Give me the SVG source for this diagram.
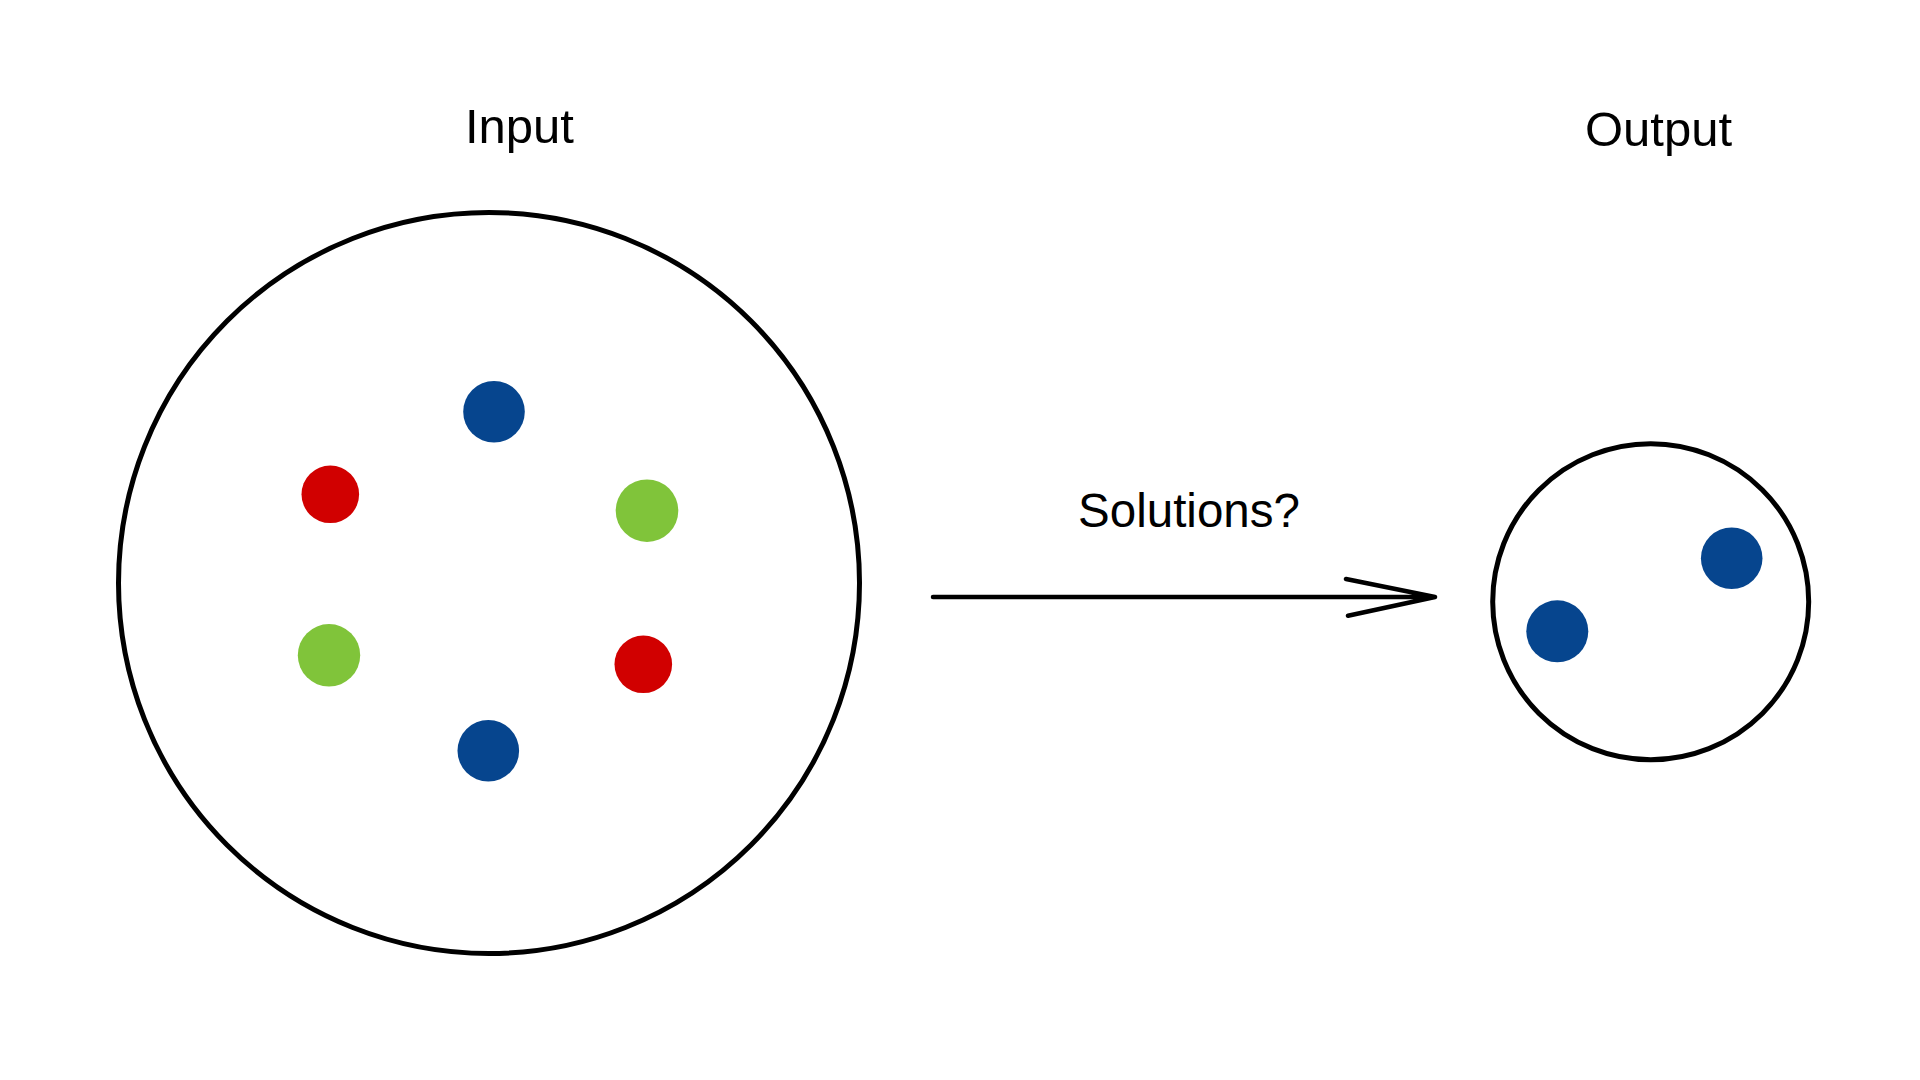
<svg xmlns="http://www.w3.org/2000/svg" width="1920" height="1080" viewBox="0 0 1920 1080">
<style>
.set{fill:none;stroke:#000;stroke-width:5}
.lbl{font-family:"Liberation Sans",Arial,sans-serif;fill:#000;text-anchor:middle}
.blue{fill:#06458e}
.red{fill:#d10000}
.green{fill:#80c43a}
.conn{fill:none;stroke:#000;stroke-width:4.5;stroke-linecap:round;stroke-linejoin:round}
</style>
<rect width="1920" height="1080" fill="#fff"/>
<g id="input">
<text class="lbl" x="519.5" y="143" font-size="49">Input</text>
<circle class="set" cx="489" cy="583" r="370.5"/>
<circle class="blue" cx="494" cy="411.7" r="30.8"/>
<circle class="red" cx="330.3" cy="494.3" r="28.8"/>
<circle class="green" cx="647" cy="510.7" r="31.3"/>
<circle class="green" cx="329" cy="655.3" r="31.2"/>
<circle class="red" cx="643.3" cy="664.3" r="28.8"/>
<circle class="blue" cx="488.3" cy="750.7" r="30.8"/>
</g>
<g id="output">
<text class="lbl" x="1658.5" y="146" font-size="49">Output</text>
<circle class="set" cx="1650.7" cy="601.7" r="158"/>
<circle class="blue" cx="1731.7" cy="558.3" r="30.8"/>
<circle class="blue" cx="1557.3" cy="631.3" r="31"/>
</g>
<g id="connectors">
<path class="conn" d="M933 597 H1435 M1346 579 L1435 597 L1348 615.7"/>
<text class="lbl" x="1189" y="527" font-size="47.5">Solutions?</text>
</g>
</svg>
